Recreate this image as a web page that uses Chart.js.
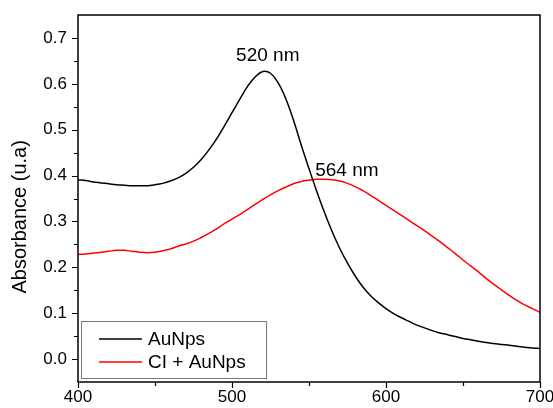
<!DOCTYPE html>
<html>
<head>
<meta charset="utf-8">
<script src="https://cdn.jsdelivr.net/npm/chart.js@4"></script>
<style>
  body { margin: 0; background: #fff; }
  #wrap { width: 553px; height: 408px; }
</style>
</head>
<body>
<div id="wrap"><canvas id="mycanvas" width="553" height="408"></canvas></div>
<script>
// wavelength (nm)
var wavelength = [400,405,410,415,420,425,430,435,440,445,450,455,460,465,470,475,480,485,490,495,
	500,505,510,515,520,525,530,535,540,545,550,555,560,565,570,575,580,585,590,595,
	600,605,610,615,620,625,630,635,640,645,650,655,660,665,670,675,680,685,690,695,700];

var auNps = [0.391,0.389,0.386,0.384,0.382,0.380,0.379,0.378,0.378,0.378,0.380,0.383,0.388,0.395,0.405,0.418,0.435,0.456,0.480,0.508,
	0.537,0.566,0.594,0.615,0.627,0.623,0.602,0.567,0.520,0.466,0.415,0.366,0.320,0.278,0.241,0.209,0.181,0.157,0.138,0.123,
	0.110,0.099,0.090,0.082,0.074,0.068,0.062,0.057,0.053,0.049,0.045,0.042,0.039,0.036,0.034,0.032,0.030,0.028,0.026,0.024,0.023];

var ciAuNps = [0.228,0.229,0.231,0.233,0.235,0.237,0.237,0.235,0.233,0.232,0.233,0.236,0.240,0.246,0.251,0.257,0.265,0.274,0.284,0.295,
	0.305,0.315,0.326,0.337,0.348,0.358,0.367,0.375,0.382,0.387,0.390,0.392,0.392,0.391,0.388,0.383,0.376,0.367,0.357,0.346,
	0.335,0.324,0.313,0.302,0.291,0.280,0.268,0.256,0.243,0.230,0.216,0.203,0.190,0.176,0.163,0.151,0.139,0.128,0.118,0.110,0.102];

var seriesNames = ['AuNps', 'CI + AuNps'];
var seriesColors = ['#000000', '#ff0000'];
var xTicks = [400, 500, 600, 700];
var yTicks = [0.0, 0.1, 0.2, 0.3, 0.4, 0.5, 0.6, 0.7];
var peaks = [{ nm: 520, text: '520 nm' }, { nm: 564, text: '564 nm' }];
var yTitle = 'Absorbance (u.a)';

var FONT = '"Liberation Sans", Arial, sans-serif';

function toPoints(xs, ys) {
	var pts = [];
	for (var i = 0; i < xs.length; i++) pts.push({ x: xs[i], y: ys[i] });
	return pts;
}

// frame, outward ticks (major + minor), axis title, peak labels and legend box
var decor = {
	id: 'decor',
	afterDraw: function(chart) {
		var ctx = chart.ctx;
		var a = chart.chartArea;
		var xs = chart.scales.x, ys = chart.scales.y;
		ctx.save();
		ctx.strokeStyle = '#000';
		ctx.lineWidth = 1.5;
		ctx.strokeRect(a.left, a.top, a.right - a.left, a.bottom - a.top);

		ctx.lineWidth = 1.2;
		ctx.beginPath();
		for (var v = 400; v <= 700; v += 50) {
			var px = Math.round(xs.getPixelForValue(v)) + 0.5;
			var len = (v % 100 === 0) ? 6 : 4;
			ctx.moveTo(px, a.bottom);
			ctx.lineTo(px, a.bottom + len);
		}
		for (var k = 0; k <= 14; k++) {
			var val = k * 0.05;
			var py = Math.round(ys.getPixelForValue(val)) + 0.5;
			var l = (k % 2 === 0) ? 6 : 4;
			ctx.moveTo(a.left, py);
			ctx.lineTo(a.left - l, py);
		}
		ctx.stroke();

		// y axis title
		ctx.fillStyle = '#000';
		ctx.font = '20px ' + FONT;
		ctx.save();
		ctx.translate(20, ys.getPixelForValue(0.31));
		ctx.rotate(-Math.PI / 2);
		ctx.textAlign = 'center';
		ctx.textBaseline = 'middle';
		ctx.fillText(yTitle, 0, 0);
		ctx.restore();

		ctx.font = '19px ' + FONT;
		ctx.textBaseline = 'alphabetic';
		// 520 nm above the AuNps maximum
		var p0 = peaks[0];
		var i0 = wavelength.indexOf(p0.nm);
		ctx.textAlign = 'center';
		ctx.fillText(p0.text, xs.getPixelForValue(p0.nm) + 5, ys.getPixelForValue(auNps[i0]) - 10);
		// 564 nm beside the CI + AuNps maximum
		var p1 = peaks[1];
		var i1 = wavelength.indexOf(560);
		ctx.textAlign = 'left';
		ctx.fillText(p1.text, xs.getPixelForValue(554), ys.getPixelForValue(ciAuNps[i1]) - 3);

		// legend
		var lx = a.left + 3, ly = a.bottom - 61, lw = 185, lh = 57;
		ctx.fillStyle = '#fff';
		ctx.fillRect(lx, ly, lw, lh);
		ctx.strokeStyle = '#777';
		ctx.lineWidth = 1;
		ctx.strokeRect(lx + 0.5, ly + 0.5, lw, lh);
		ctx.font = '19px ' + FONT;
		ctx.textAlign = 'left';
		ctx.textBaseline = 'middle';
		for (var s = 0; s < seriesNames.length; s++) {
			var yy = ly + 18 + s * 23;
			ctx.strokeStyle = seriesColors[s];
			ctx.lineWidth = 1.5;
			ctx.beginPath();
			ctx.moveTo(lx + 18, yy);
			ctx.lineTo(lx + 61, yy);
			ctx.stroke();
			ctx.fillStyle = '#000';
			ctx.fillText(seriesNames[s], lx + 67, yy + 1);
		}
		ctx.restore();
	}
};

var ctx = document.getElementById('mycanvas');

var chart = new Chart(ctx, {
	type: 'scatter',
	data: {
		datasets: [
			{
				label: seriesNames[0],
				data: toPoints(wavelength, auNps),
				showLine: true,
				borderColor: seriesColors[0],
				borderWidth: 1.5,
				pointRadius: 0,
				tension: 0.4
			},
			{
				label: seriesNames[1],
				data: toPoints(wavelength, ciAuNps),
				showLine: true,
				borderColor: seriesColors[1],
				borderWidth: 1.5,
				pointRadius: 0,
				tension: 0.4
			}
		]
	},
	options: {
		responsive: false,
		animation: false,
		layout: { padding: { top: 15, right: 13, left: 0, bottom: 0 } },
		plugins: { legend: { display: false }, tooltip: { enabled: false } },
		scales: {
			x: {
				type: 'linear',
				min: 400,
				max: 700,
				afterFit: function(scale) {
					scale.height = 26;
					scale.paddingLeft = 0;
					scale.paddingRight = 0;
				},
				afterBuildTicks: function(scale) {
					scale.ticks = xTicks.map(function(v) { return { value: v }; });
				},
				grid: { display: false, drawTicks: false },
				border: { display: false },
				ticks: {
					color: '#000',
					padding: 5,
					maxRotation: 0,
					font: { family: FONT, size: 17 }
				}
			},
			y: {
				min: -0.05,
				max: 0.75,
				afterFit: function(scale) {
					scale.width = 78;
					scale.paddingTop = 0;
					scale.paddingBottom = 0;
				},
				afterBuildTicks: function(scale) {
					scale.ticks = yTicks.map(function(v) { return { value: v }; });
				},
				grid: { display: false, drawTicks: false },
				border: { display: false },
				ticks: {
					color: '#000',
					padding: 11,
					font: { family: FONT, size: 17 },
					callback: function(v) { return v.toFixed(1); }
				}
			}
		}
	},
	plugins: [decor]
});
</script>
</body>
</html>
